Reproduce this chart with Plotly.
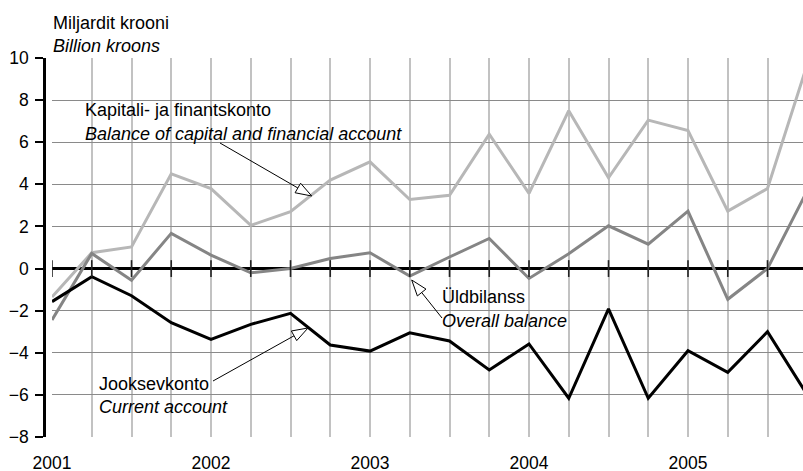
import plotly.graph_objects as go

# ---------------- data ----------------
quarters = ["2001 Q1", "2001 Q2", "2001 Q3", "2001 Q4",
            "2002 Q1", "2002 Q2", "2002 Q3", "2002 Q4",
            "2003 Q1", "2003 Q2", "2003 Q3", "2003 Q4",
            "2004 Q1", "2004 Q2", "2004 Q3", "2004 Q4",
            "2005 Q1", "2005 Q2", "2005 Q3", "2005 Q4"]
capital_financial = [-1.35, 0.75, 1.03, 4.50, 3.80, 2.05, 2.70, 4.20, 5.07, 3.28,
                     3.48, 6.38, 3.57, 7.50, 4.31, 7.05, 6.55, 2.73, 3.80, 9.70]
overall_balance = [-2.44, 0.72, -0.55, 1.67, 0.64, -0.20, 0.00, 0.48, 0.75, -0.36,
                   0.55, 1.43, -0.47, 0.70, 2.03, 1.16, 2.73, -1.46, 0.00, 3.70]
current_account = [-1.57, -0.39, -1.29, -2.57, -3.36, -2.65, -2.13, -3.63, -3.92, -3.05,
                   -3.44, -4.82, -3.58, -6.16, -1.92, -6.16, -3.90, -4.93, -3.00, -6.00]
year_ticks = [2001, 2002, 2003, 2004, 2005]
year_labels = ["2001", "2002", "2003", "2004", "2005"]
y_ticks = [-8, -6, -4, -2, 0, 2, 4, 6, 8, 10]

x = [int(q[:4]) + (int(q[-1]) - 1) / 4 for q in quarters]

FONT = "Liberation Sans, Arial, Helvetica, sans-serif"
W, H = 803, 471
ML, MR, MT, MB = 44, 0, 58, 34
PW, PH = W - ML - MR, H - MT - MB


def px(s):
    return (s - ML) / PW


def py(s):
    return (H - MB - s) / PH


fig = go.Figure()
fig.add_trace(go.Scatter(x=x, y=capital_financial, mode="lines",
                         line=dict(color="#b7b7b7", width=3), showlegend=False, hoverinfo="skip"))
fig.add_trace(go.Scatter(x=x, y=overall_balance, mode="lines",
                         line=dict(color="#858585", width=3), showlegend=False, hoverinfo="skip"))
fig.add_trace(go.Scatter(x=x, y=current_account, mode="lines",
                         line=dict(color="#000000", width=3), showlegend=False, hoverinfo="skip"))
# small ticks on the zero line at each quarter
fig.add_trace(go.Scatter(x=x, y=[0] * len(x), mode="markers",
                         marker=dict(symbol="line-ns", size=12, line=dict(color="#222", width=1.6)),
                         showlegend=False, hoverinfo="skip"))

shapes = []
annotations = []

# white label boxes (hide gridlines)
boxes = [(73, 97, 433, 153), (90, 368, 248, 417), (432, 283, 590, 333)]
for (x0, y0, x1, y1) in boxes:
    shapes.append(dict(type="rect", xref="paper", yref="paper",
                       x0=px(x0), x1=px(x1), y0=py(y1), y1=py(y0),
                       fillcolor="white", line=dict(width=0), layer="between"))

# label texts (pixel positions)
texts = [
    (83, 110, "Kapitali- ja finantskonto", 18),
    (83, 134, "<i>Balance of capital and financial account</i>", 18),
    (97, 384, "Jooksevkonto", 18),
    (97, 407, "<i>Current account</i>", 18),
    (440, 297, "Üldbilanss", 18),
    (440, 321, "<i>Overall balance</i>", 18),
    (51, 23, "Miljardit krooni", 18),
    (51, 46, "<i>Billion kroons</i>", 18),
]
for (tx, ty, t, fs) in texts:
    annotations.append(dict(x=px(tx), y=py(ty), xref="paper", yref="paper", text=t,
                            showarrow=False, xanchor="left", yanchor="middle",
                            font=dict(family=FONT, size=fs, color="#000")))

# arrows with open heads
arrows = [((220, 143), (311.7, 196)), ((213, 381), (308, 328)), ((442, 318), (411.7, 280))]
L, HW = 16, 5.5
for (tx, ty), (ax_, ay_) in arrows:
    dx, dy = ax_ - tx, ay_ - ty
    n = (dx * dx + dy * dy) ** 0.5
    ux, uy = dx / n, dy / n
    bx, by = ax_ - L * ux, ay_ - L * uy
    nx, ny = -uy, ux
    c1 = (bx + HW * nx, by + HW * ny)
    c2 = (bx - HW * nx, by - HW * ny)
    shapes.append(dict(type="line", xref="paper", yref="paper",
                       x0=px(tx), y0=py(ty), x1=px(bx), y1=py(by),
                       line=dict(color="black", width=1), layer="above"))
    path = "M{:.5f},{:.5f} L{:.5f},{:.5f} L{:.5f},{:.5f} Z".format(
        px(ax_), py(ay_), px(c1[0]), py(c1[1]), px(c2[0]), py(c2[1]))
    shapes.append(dict(type="path", xref="paper", yref="paper", path=path,
                       fillcolor="white", line=dict(color="black", width=1), layer="above"))

x_start = 52                 # px of first quarter
q_px = 39.75                 # px per quarter
fig.update_layout(
    width=W, height=H,
    margin=dict(l=ML, r=MR, t=MT, b=MB, pad=0, autoexpand=False),
    paper_bgcolor="white", plot_bgcolor="white",
    font=dict(family=FONT, size=16, color="#000"),
    xaxis=dict(
        domain=[px(x_start), 1],
        range=[2001, 2001 + (W - x_start) / q_px / 4],
        tickmode="array", tickvals=year_ticks, ticktext=year_labels,
        showgrid=True, gridcolor="#c2c2c2", gridwidth=1.5,
        minor=dict(tickmode="linear", tick0=2001, dtick=0.25, showgrid=True,
                   gridcolor="#c2c2c2", gridwidth=1.5, ticks=""),
        ticks="", showline=False, zeroline=False,
        tickfont=dict(family=FONT, size=17.5),
        ticklabelstandoff=13, automargin=False,
    ),
    yaxis=dict(
        range=[-8, 10], tickmode="array", tickvals=y_ticks,
        anchor="free", position=0,
        showgrid=True, gridcolor="#8a8a8a", gridwidth=1,
        zeroline=True, zerolinecolor="black", zerolinewidth=3,
        showline=True, linecolor="black", linewidth=2.5,
        ticks="outside", ticklen=8, tickwidth=2, tickcolor="black",
        tickfont=dict(family=FONT, size=17.5),
        ticklabelstandoff=3, automargin=False,
    ),
    shapes=shapes,
    annotations=annotations,
)

fig.write_html("out.html", config={"displayModeBar": False},
               post_script="document.body.style.margin='0';document.body.style.overflow='hidden';")
